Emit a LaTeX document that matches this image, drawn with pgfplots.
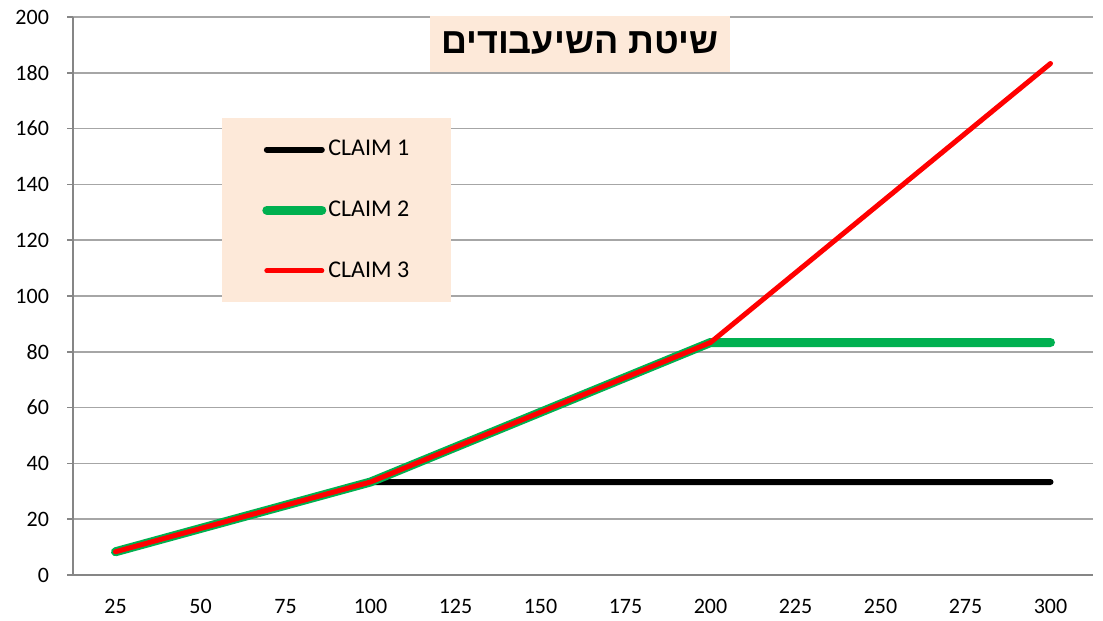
\documentclass[border=0pt]{standalone}
\usepackage{fontspec}
\setmainfont{Carlito}
\newfontfamily\hebfont[Script=Hebrew]{Liberation Sans}
\TeXXeTstate=1
\usepackage{pgfplots}
\pgfplotsset{compat=1.18}
\definecolor{peach}{HTML}{FDE9D9}
\definecolor{cgreen}{HTML}{00B050}
\definecolor{gridgray}{HTML}{A6A6A6}
\definecolor{axgray}{HTML}{868686}
\begin{document}
\begin{tikzpicture}
\useasboundingbox (-36.5pt,-23pt) rectangle (515pt,287.5pt);
\begin{axis}[
  at={(0pt,0pt)}, anchor=south west,
  scale only axis, width=510pt, height=279pt,
  xmin=-0.5, xmax=11.5, ymin=0, ymax=200,
  axis x line*=bottom, axis y line*=left,
  axis line style={axgray, line width=0.75pt, -},
  xtick={0,...,11},
  xticklabels={25,50,75,100,125,150,175,200,225,250,275,300},
  minor xtick={-0.5,0.5,...,11.5},
  ytick={0,20,...,200},
  tick align=outside,
  major tick length=3pt, minor tick length=3pt,
  xtick style={draw=none},
  minor x tick style={axgray, line width=0.75pt},
  ytick style={axgray, line width=0.75pt},
  ymajorgrids,
  grid style={gridgray, line width=0.75pt},
  tick label style={font=\fontsize{11}{13}\selectfont},
  /pgf/number format/assume math mode=true,
  xticklabel style={yshift=-5.5pt},
  yticklabel style={xshift=-5.5pt},
  legend style={at={(0.146,0.819)}, anchor=north west, fill=peach, draw=none,
    inner xsep=20pt, inner ysep=10pt, row sep=19pt,
    font=\fontsize{12}{14}\selectfont,
    nodes={inner sep=1pt}},
  legend cell align=left,
  legend image code/.code={\draw[#1] (0pt,0pt) -- (27.5pt,0pt);},
]
\addplot[black, line width=3pt, line cap=round] coordinates {
(0,8.33)(1,16.67)(2,25)(3,33.33)(4,33.33)(5,33.33)(6,33.33)(7,33.33)(8,33.33)(9,33.33)(10,33.33)(11,33.33)};
\addlegendentry{CLAIM 1}
\addplot[cgreen, line width=4.5pt, line cap=round] coordinates {
(0,8.33)(1,16.67)(2,25)(3,33.33)(4,45.83)(5,58.33)(6,70.83)(7,83.33)(8,83.33)(9,83.33)(10,83.33)(11,83.33)};
\addlegendentry{CLAIM 2}
\addplot[red, line width=2.5pt, line cap=round, line join=round] coordinates {
(0,8.33)(1,16.67)(2,25)(3,33.33)(4,45.83)(5,58.33)(6,70.83)(7,83.33)(8,108.33)(9,133.33)(10,158.33)(11,183.33)};
\addlegendentry{CLAIM 3}
\node[fill=peach, minimum width=150pt, minimum height=29pt, anchor=center,
  font=\hebfont\bfseries\fontsize{18}{21}\selectfont]
  at (rel axis cs:0.497,0.953) {\beginR שיטת השיעבודים\endR};
\end{axis}
\end{tikzpicture}
\end{document}
